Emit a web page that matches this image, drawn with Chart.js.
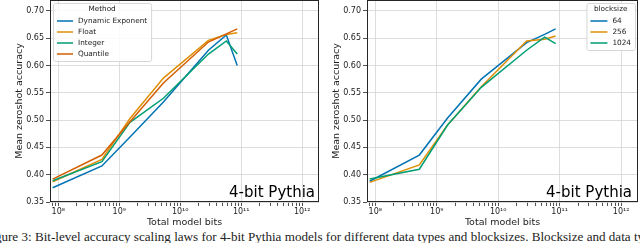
<!DOCTYPE html>
<html>
<head>
<meta charset="utf-8">
<script src="https://cdn.jsdelivr.net/npm/chart.js@4.4.1/dist/chart.umd.min.js"></script>
<style>
html, body { margin: 0; padding: 0; background: #fff; overflow: hidden; }
#pagina { position: relative; width: 640px; height: 243px; overflow: hidden; background: #fff; }
.painel { position: absolute; top: 0; width: 320px; height: 232px; }
#legenda-figura {
    position: absolute; left: -16px; top: 229px; white-space: nowrap;
    font-family: "Liberation Serif", serif; font-size: 13.1px; color: #222;
}
</style>
</head>
<body>
<div id="pagina">
    <div id="legenda-figura">Figure 3: Bit-level accuracy scaling laws for 4-bit Pythia models for different data types and blocksizes. Blocksize and data types</div>
    <div class="painel" style="left:0"><canvas id="graficoMetodo" width="320" height="232"></canvas></div>
    <div class="painel" style="left:320px"><canvas id="graficoBloco" width="320" height="232"></canvas></div>
</div>
<script>
"use strict";

/********************************************************************
 * Dados
 ********************************************************************/
const modelBits = [8.1e7, 5.2e8, 1.5e9, 5.3e9, 2.9e10, 5.7e10, 8.6e10];

const methodLabels = ["Dynamic Exponent", "Float", "Integer", "Quantile"];
const dynamicExponent = [0.376, 0.416, 0.469, 0.533, 0.628, 0.656, 0.600];
const floatAcc = [0.387, 0.428, 0.503, 0.577, 0.646, 0.657, 0.660];
const integerAcc = [0.389, 0.424, 0.496, 0.540, 0.621, 0.645, 0.621];
const quantileAcc = [0.392, 0.436, 0.497, 0.568, 0.643, 0.658, 0.667];

const blockLabels = ["64", "256", "1024"];
const block64 = [0.388, 0.436, 0.504, 0.575, 0.642, 0.657, 0.667];
const block256 = [0.386, 0.418, 0.491, 0.561, 0.645, 0.648, 0.654];
const block1024 = [0.392, 0.410, 0.491, 0.560, 0.628, 0.652, 0.640];

const yTicks = [0.35, 0.40, 0.45, 0.50, 0.55, 0.60, 0.65, 0.70];
const xDecades = [1e7, 1e8, 1e9, 1e10, 1e11, 1e12];
const supers = { "7": "⁷", "8": "⁸", "9": "⁹", "10": "¹⁰", "11": "¹¹", "12": "¹²" };

const cores = ["#0173b2", "#de8f05", "#029e73", "#d55e00"];
const fonte = "'DejaVu Sans', sans-serif";

/********************************************************************
 * Moldura e legenda (estilo matplotlib)
 ********************************************************************/
const molduraPlugin = {

    id: "moldura",

    afterDraw(chart, args, opts) {

        const ctx = chart.ctx;
        const a = chart.chartArea;

        ctx.save();
        ctx.strokeStyle = "#262626";
        ctx.lineWidth = 1;
        ctx.strokeRect(a.left + 0.5, a.top + 0.5, a.right - a.left - 1, a.bottom - a.top - 1);

        // texto "4-bit Pythia"
        ctx.fillStyle = "#000";
        ctx.font = "15px " + fonte;
        ctx.textAlign = "right";
        ctx.textBaseline = "alphabetic";
        ctx.fillText("4-bit Pythia", a.right - opts.textoDireita, 196.5);

        // legenda
        const sets = chart.data.datasets;
        ctx.font = "7.3px " + fonte;
        let larg = ctx.measureText(opts.titulo).width + 8;
        sets.forEach(d => {
            larg = Math.max(larg, 4 + opts.traco + 5 + ctx.measureText(d.label).width + 4);
        });
        const alt = 18 + (sets.length - 1) * 11 + 7;
        const x0 = opts.lado === "esquerda" ? a.left + 3 : a.right - 3 - larg;
        const y0 = a.top + 3;

        ctx.beginPath();
        ctx.roundRect(x0 + 0.5, y0 + 0.5, larg, alt, 2);
        ctx.fillStyle = "rgba(255,255,255,0.85)";
        ctx.fill();
        ctx.strokeStyle = "#d6d6d6";
        ctx.lineWidth = 1;
        ctx.stroke();

        ctx.fillStyle = "#222";
        ctx.textAlign = "center";
        ctx.textBaseline = "middle";
        ctx.fillText(opts.titulo, x0 + larg / 2, y0 + 6.5);

        ctx.textAlign = "left";
        sets.forEach((d, i) => {
            const y = y0 + 18 + i * 11;
            ctx.strokeStyle = d.borderColor;
            ctx.lineWidth = 1.5;
            ctx.beginPath();
            ctx.moveTo(x0 + 4, y);
            ctx.lineTo(x0 + 4 + opts.traco, y);
            ctx.stroke();
            ctx.fillText(d.label, x0 + 4 + opts.traco + 5, y);
        });

        ctx.restore();

    }

};

/********************************************************************
 * Cria um gráfico
 ********************************************************************/
function criarGrafico(id, rotulos, series, cfg) {

    const canvas = document.getElementById(id);

    const datasets = series.map((s, i) => ({
        label: rotulos[i],
        data: modelBits.map((x, j) => ({ x: x, y: s[j] })),
        borderColor: cores[i],
        backgroundColor: cores[i],
        borderWidth: 1.5,
        pointRadius: 0,
        tension: 0,
        order: -i
    }));

    return new Chart(canvas, {

        type: "line",

        data: { datasets: datasets },

        options: {

            responsive: false,
            animation: false,
            events: [],

            layout: { padding: { left: 0, right: cfg.padDireita, top: 0, bottom: 0 } },

            plugins: {
                legend: { display: false },
                tooltip: { enabled: false },
                moldura: { lado: cfg.lado, titulo: cfg.titulo, traco: cfg.traco, textoDireita: cfg.textoDireita }
            },

            scales: {

                x: {
                    type: "logarithmic",
                    min: Math.pow(10, 7.865),
                    max: Math.pow(10, 12.275),
                    afterBuildTicks: scale => {
                        const t = [];
                        xDecades.forEach(d => {
                            for (let k = 1; k <= 9; k++) {
                                const v = d * k;
                                if (v >= scale.min && v <= scale.max) t.push({ value: v });
                            }
                        });
                        scale.ticks = t;
                    },
                    afterFit: scale => {
                        scale.height = 30;
                        scale.paddingLeft = 0;
                        scale.paddingRight = 0;
                    },
                    grid: {
                        color: c => (c.tick && Math.abs(Math.log10(c.tick.value) % 1) < 1e-6) ? "#d4d4d4" : "transparent",
                        tickColor: "#262626",
                        tickLength: 4,
                        lineWidth: 0.8
                    },
                    border: { display: false },
                    ticks: {
                        autoSkip: false,
                        maxRotation: 0,
                        padding: 1,
                        color: "#222",
                        font: { family: fonte, size: 8 },
                        callback: v => {
                            const e = Math.log10(v);
                            if (Math.abs(e - Math.round(e)) > 1e-6) return "";
                            return "10" + supers[String(Math.round(e))];
                        }
                    },
                    title: {
                        display: true,
                        text: "Total model bits",
                        color: "#222",
                        font: { family: fonte, size: 9.5 },
                        padding: { top: 0, bottom: 4 }
                    }
                },

                y: {
                    min: 0.35,
                    max: 0.72,
                    afterBuildTicks: scale => { scale.ticks = yTicks.map(v => ({ value: v })); },
                    afterFit: scale => {
                        scale.width = cfg.larguraY;
                        scale.paddingTop = 0;
                        scale.paddingBottom = 0;
                    },
                    grid: { color: "#d4d4d4", tickColor: "#262626", tickLength: 4, lineWidth: 0.8 },
                    border: { display: false },
                    ticks: {
                        padding: 2,
                        color: "#222",
                        font: { family: fonte, size: 8 },
                        callback: v => v.toFixed(2)
                    },
                    title: {
                        display: true,
                        text: "Mean zeroshot accuracy",
                        color: "#222",
                        font: { family: fonte, size: 9.5 },
                        padding: { top: cfg.padTituloY, bottom: 0 }
                    }
                }

            }

        },

        plugins: [molduraPlugin]

    });

}

/********************************************************************
 * Inicialização
 ********************************************************************/
criarGrafico("graficoMetodo", methodLabels,
    [dynamicExponent, floatAcc, integerAcc, quantileAcc],
    { lado: "esquerda", titulo: "Method", traco: 16, textoDireita: 4, padDireita: 1, larguraY: 50, padTituloY: 14.3 });

criarGrafico("graficoBloco", blockLabels,
    [block64, block256, block1024],
    { lado: "direita", titulo: "blocksize", traco: 17, textoDireita: 6, padDireita: 2, larguraY: 47, padTituloY: 11 });
</script>
</body>
</html>
